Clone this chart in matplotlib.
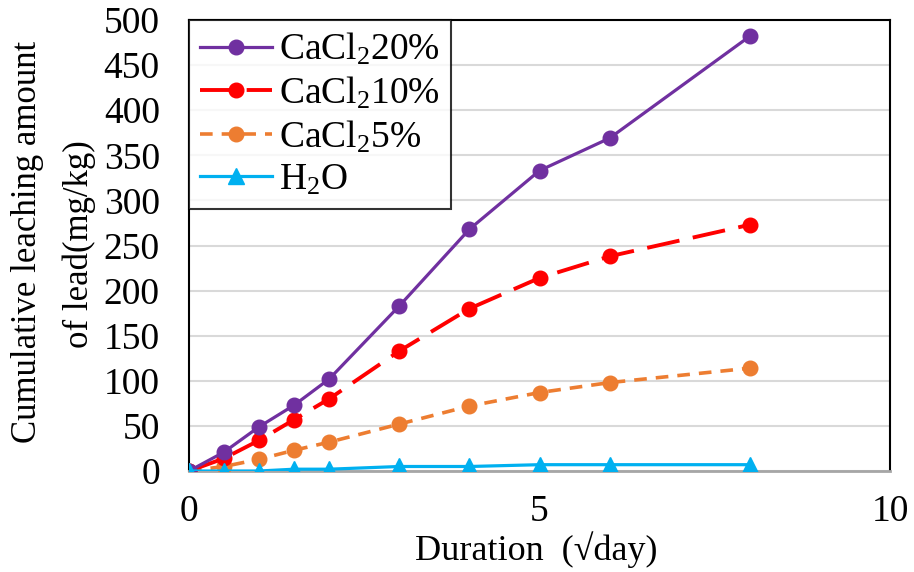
import matplotlib
matplotlib.use("Agg")
import matplotlib.pyplot as plt

plt.rcParams['font.family'] = ['Liberation Serif', 'DejaVu Serif']
plt.rcParams['mathtext.fontset'] = 'custom'
plt.rcParams['mathtext.rm'] = 'Liberation Serif'
plt.rcParams['mathtext.it'] = 'Liberation Serif:italic'

# Data
x = [0, 0.5, 1, 1.5, 2, 3, 4, 5, 6, 8]
cacl20 = [0, 21, 49, 73, 102, 183, 268, 333, 369, 482]
cacl10 = [0, 14, 34, 57, 80, 133, 180, 214, 238, 273]
cacl5 = [0, 5, 13, 23, 32, 52, 72, 87, 98, 114]
h2o = [0, 0, 0, 2, 2, 5, 5, 7, 7, 7]

labels = [r'CaCl$\mathregular{_2}$20%', r'CaCl$\mathregular{_2}$10%',
          r'CaCl$\mathregular{_2}$5%', r'H$\mathregular{_2}$O']
xticks = [0, 5, 10]
yticks = list(range(0, 501, 50))

fig = plt.figure(figsize=(9.14, 5.72), dpi=100)
ax = fig.add_axes([189/914, 1-471/572, (890-189)/914, (471-20)/572])

ax.plot(x, cacl20, color='#7030a0', lw=2.3, marker='o', ms=10.5, label=labels[0], zorder=5)
ax.plot(x, cacl10, color='#ff0000', lw=2.8, marker='o', ms=10.5, dashes=(8.5, 3.5), label=labels[1], zorder=4)
ax.plot(x, cacl5, color='#ed7d31', lw=2.6, marker='o', ms=10.5, dashes=(3.5, 2.5), label=labels[2], zorder=3)
ax.plot(x, h2o, color='#00b0f0', lw=2.3, marker='^', ms=11, label=labels[3], zorder=6)

ax.set_xlim(0, 10)
ax.set_ylim(0, 500)
ax.set_xticks(xticks)
ax.set_yticks(yticks)
ax.tick_params(axis='both', length=0, labelsize=27)
ax.tick_params(axis='x', pad=17)
ax.tick_params(axis='y', pad=21)
ax.yaxis.grid(True, color='#d9d9d9', lw=1.5)
ax.set_axisbelow(True)

for s in ['left', 'top', 'right']:
    ax.spines[s].set_color('black')
    ax.spines[s].set_linewidth(1.5)
ax.spines['bottom'].set_color('#a6a6a6')
ax.spines['bottom'].set_linewidth(2)

fig.text(536/914, 1-550/572, 'Duration  (√day)', fontsize=26, ha='center', va='center')
fig.text(28/914, 1-242/572, 'Cumulative leaching amount',
         rotation=90, ha='center', va='center', fontsize=25)
fig.text(79/914, 1-244/572, 'of lead(mg/kg)',
         rotation=90, ha='center', va='center', fontsize=25)

leg = ax.legend(loc='upper left', bbox_to_anchor=(0, 1), borderaxespad=0,
                fontsize=27, frameon=True, fancybox=False, edgecolor='black',
                handlelength=1.9, handletextpad=0.2, labelspacing=0.2,
                borderpad=0.3)
leg.get_frame().set_linewidth(1.5)
leg.set_zorder(10)

fig.savefig('out.png', dpi=100)
